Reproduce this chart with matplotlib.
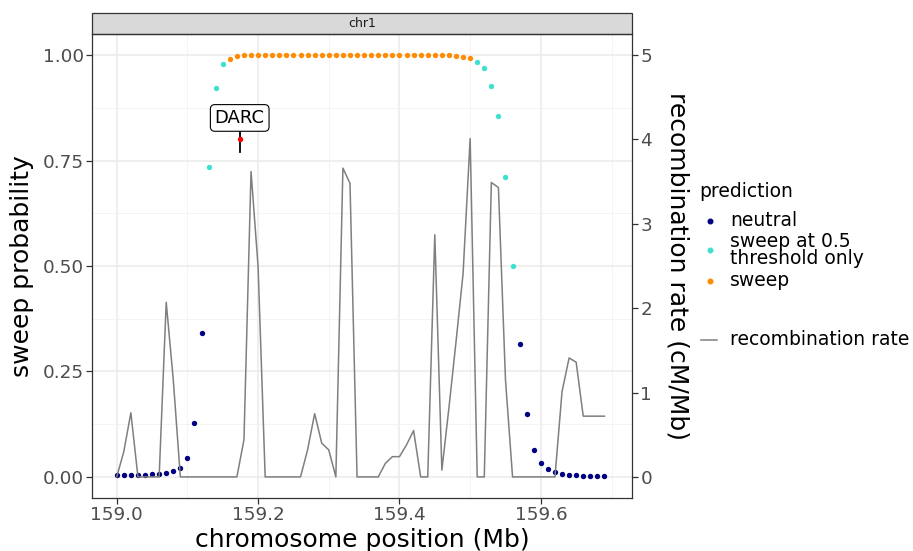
import matplotlib
matplotlib.use("Agg")
import matplotlib.pyplot as plt
from matplotlib.patches import Rectangle
from matplotlib.lines import Line2D
from matplotlib.ticker import FixedLocator, FormatStrFormatter

plt.rcParams['font.family'] = ['DejaVu Sans']

# ---------------- data ----------------
position = [159.00, 159.01, 159.02, 159.03, 159.04, 159.05, 159.06, 159.07, 159.08, 159.09,
            159.10, 159.11, 159.12, 159.13, 159.14, 159.15, 159.16, 159.17, 159.18, 159.19,
            159.20, 159.21, 159.22, 159.23, 159.24, 159.25, 159.26, 159.27, 159.28, 159.29,
            159.30, 159.31, 159.32, 159.33, 159.34, 159.35, 159.36, 159.37, 159.38, 159.39,
            159.40, 159.41, 159.42, 159.43, 159.44, 159.45, 159.46, 159.47, 159.48, 159.49,
            159.50, 159.51, 159.52, 159.53, 159.54, 159.55, 159.56, 159.57, 159.58, 159.59,
            159.60, 159.61, 159.62, 159.63, 159.64, 159.65, 159.66, 159.67, 159.68, 159.69]

sweep_prob = [0.005, 0.005, 0.005, 0.005, 0.005, 0.006, 0.007, 0.009, 0.013, 0.022,
              0.044, 0.128, 0.342, 0.734, 0.923, 0.978, 0.991, 0.997, 1.0, 1.0,
              1.0, 1.0, 1.0, 1.0, 1.0, 1.0, 1.0, 1.0, 1.0, 1.0,
              1.0, 1.0, 1.0, 1.0, 1.0, 1.0, 1.0, 1.0, 1.0, 1.0,
              1.0, 1.0, 1.0, 1.0, 1.0, 1.0, 1.0, 1.0, 0.997, 0.995,
              0.992, 0.984, 0.969, 0.927, 0.855, 0.710, 0.500, 0.314, 0.149, 0.064,
              0.033, 0.018, 0.011, 0.007, 0.005, 0.004, 0.003, 0.003, 0.002, 0.002]

# n = neutral, c = sweep at 0.5 threshold only, o = sweep
prediction = list("nnnnnnnnnnnnn" "ccc"
                  "ooooooooooooooooooooooooooooooooooo"
                  "cccccc" "nnnnnnnnnnnnn")

recomb_rate = [0.0, 0.30, 0.76, 0.0, 0.0, 0.0, 0.0, 2.07, 1.15, 0.0,
               0.0, 0.0, 0.0, 0.0, 0.0, 0.0, 0.0, 0.0, 0.44, 3.62,
               2.49, 0.0, 0.0, 0.0, 0.0, 0.0, 0.0, 0.32, 0.75, 0.40,
               0.32, 0.0, 3.66, 3.48, 0.0, 0.0, 0.0, 0.0, 0.16, 0.24,
               0.24, 0.38, 0.55, 0.0, 0.0, 2.87, 0.08, 0.82, 1.60, 2.41,
               4.01, 0.0, 0.0, 3.49, 3.43, 1.15, 0.0, 0.0, 0.0, 0.0,
               0.0, 0.0, 0.0, 1.01, 1.41, 1.36, 0.72, 0.72, 0.72, 0.72]

gene_name = "DARC"
gene_pos = 159.174
gene_prob = 0.80

x_ticks = [159.0, 159.2, 159.4, 159.6]
x_minor = [159.1, 159.3, 159.5, 159.7]
y_ticks = [0.0, 0.25, 0.5, 0.75, 1.0]
y_minor = [0.125, 0.375, 0.625, 0.875]
y2_ticks = [0, 1, 2, 3, 4, 5]

pred_order = ['n', 'c', 'o']
pred_colors = {'n': '#000080', 'c': '#40E0D0', 'o': '#FF8C00'}
pred_labels = {'n': 'neutral', 'c': 'sweep at 0.5\nthreshold only', 'o': 'sweep'}

# ---------------- figure ----------------
W, H = 913, 551
fig = plt.figure(figsize=(W / 100, H / 100), dpi=100)
L, R, T, B = 92, 632, 34, 498
ax = fig.add_axes([L / W, 1 - B / H, (R - L) / W, (B - T) / H])
ax.set_xlim(158.965, 159.729)
ax.set_ylim(-0.05, 1.05)

ax.xaxis.set_major_locator(FixedLocator(x_ticks))
ax.xaxis.set_minor_locator(FixedLocator(x_minor))
ax.yaxis.set_major_locator(FixedLocator(y_ticks))
ax.yaxis.set_minor_locator(FixedLocator(y_minor))
ax.xaxis.set_major_formatter(FormatStrFormatter('%.1f'))
ax.yaxis.set_major_formatter(FormatStrFormatter('%.2f'))
ax.set_axisbelow(True)
ax.grid(which='major', color='#EBEBEB', lw=1.1)
ax.grid(which='minor', color='#F2F2F2', lw=0.6)

ax.tick_params(which='major', length=4, width=0.9, color='#333333',
               labelsize=13.2, labelcolor='#4D4D4D', pad=2)
ax.tick_params(which='minor', length=0)
for s in ax.spines.values():
    s.set_color('#333333')
    s.set_linewidth(0.9)

# points
for cat in pred_order:
    xs = [p for p, c in zip(position, prediction) if c == cat]
    ys = [v for v, c in zip(sweep_prob, prediction) if c == cat]
    ax.scatter(xs, ys, s=15, color=pred_colors[cat], linewidths=0, zorder=3)

# gene label
ax.plot([gene_pos, gene_pos], [0.771, 0.824], color='black', lw=1.3, zorder=4)
ax.scatter([gene_pos], [gene_prob], s=15, color='red', linewidths=0, zorder=5)
ax.text(gene_pos, 0.851, gene_name, ha='center', va='center', fontsize=13,
        color='black', zorder=6,
        bbox=dict(boxstyle='round,pad=0.24,rounding_size=0.25', fc='white', ec='black', lw=0.8))

ax.set_xlabel("chromosome position (Mb)", fontsize=18, labelpad=3)
ax.set_ylabel("sweep probability", fontsize=18, labelpad=6)

# secondary axis
ax2 = ax.twinx()
ax2.set_ylim(-0.25, 5.25)
ax2.yaxis.set_major_locator(FixedLocator(y2_ticks))
ax2.plot(position, recomb_rate, color='#7F7F7F', lw=1.1, zorder=2)
ax2.tick_params(axis='y', length=4, width=0.9, color='#333333',
                labelsize=13.2, labelcolor='#4D4D4D', pad=2)
for s in ax2.spines.values():
    s.set_visible(False)
ax2.set_ylabel("recombination rate (cM/Mb)", fontsize=18, rotation=270,
               va='bottom', labelpad=10)

# facet strip
strip_h = 21 / (B - T)
ax.add_patch(Rectangle((0, 1), 1, strip_h, transform=ax.transAxes, clip_on=False,
                       fc='#D9D9D9', ec='#333333', lw=0.9))
ax.text(0.5, 1 + strip_h / 2, "chr1", transform=ax.transAxes, ha='center', va='center',
        fontsize=9, color='#1A1A1A')

# legend (manual)
def fx(x):
    return x / W

def fy(y):
    return 1 - y / H

fig.text(fx(699), fy(191.5), "prediction", ha='left', va='center', fontsize=13.5)
key_y = {'n': 220.5, 'c': 250, 'o': 280.5}
for cat in pred_order:
    fig.add_artist(Line2D([fx(709.5)], [fy(key_y[cat])], marker='o', ms=3.3, lw=0,
                          color=pred_colors[cat], transform=fig.transFigure))
    fig.text(fx(730), fy(key_y[cat]), pred_labels[cat], ha='left', va='center',
             fontsize=13.5, linespacing=0.88)
fig.add_artist(Line2D([fx(701), fx(717)], [fy(339.5), fy(339.5)], color='#7F7F7F', lw=1.1,
                      transform=fig.transFigure))
fig.text(fx(730), fy(339.5), "recombination rate", ha='left', va='center', fontsize=13.5)

fig.savefig("out.png", dpi=100)
